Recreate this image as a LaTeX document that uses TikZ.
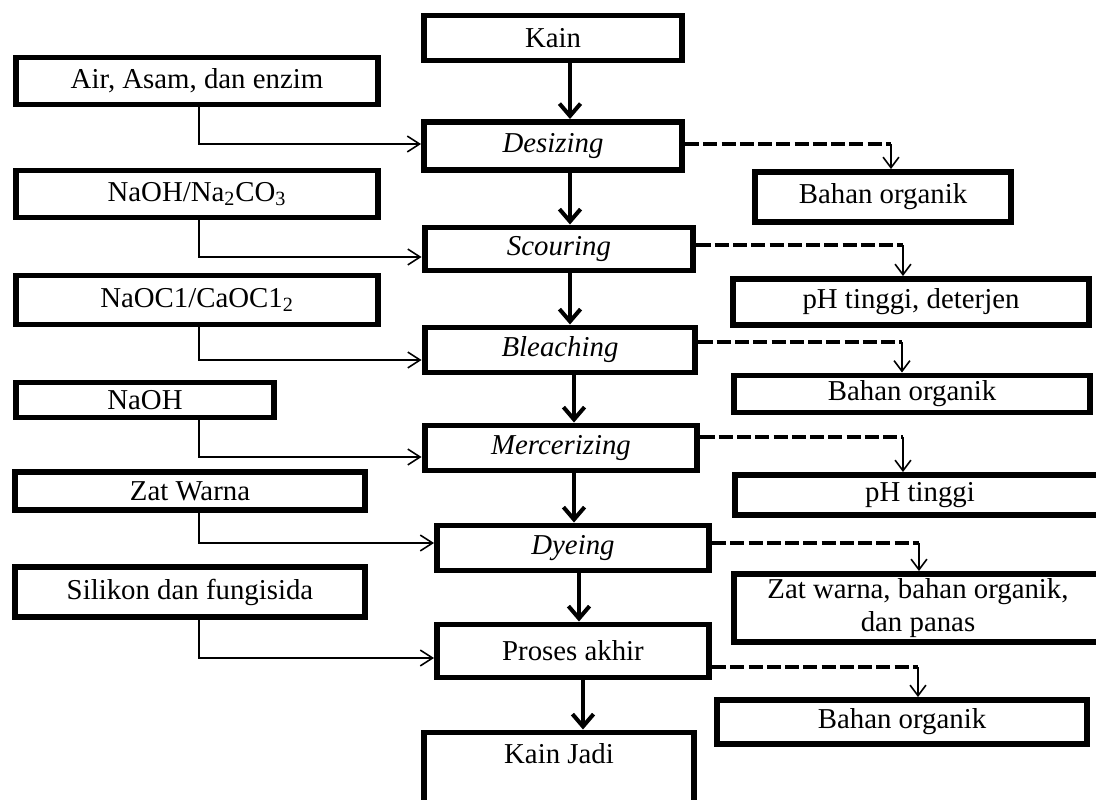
\documentclass[tikz,border=0pt]{standalone}
\usepackage{fontspec}
\setmainfont{Liberation Serif}
\usetikzlibrary{arrows.meta, positioning, calc}

\begin{document}
\begin{tikzpicture}[
  x=0.02cm, y=-0.02cm,
  font=\fontsize{16.4}{19}\selectfont,
  box/.style={rectangle, draw, line width=3.4pt, inner sep=2pt, align=center},
  mainarr/.style={-{Straight Barb[length=7pt,width=12pt]}, line width=2.3pt},
  inarr/.style={-{Straight Barb[length=7pt,width=9pt]}, line width=0.9pt},
  wasteline/.style={line width=2.6pt, dash pattern=on 8pt off 2.4pt},
  wastearr/.style={-{Straight Barb[length=6pt,width=9pt]}, line width=0.9pt},
]
  \clip (0,0) rectangle (1096,800);

  % main process column
  \node[box, minimum width=5.16cm, minimum height=0.90cm] (kain) at (553,38) {Kain};
  \node[box, minimum width=5.16cm, minimum height=0.96cm] (desizing) at (553,146) {\textit{Desizing}};
  \node[box, minimum width=5.38cm, minimum height=0.86cm] (scouring) at (559,249) {\textit{Scouring}};
  \node[box, minimum width=5.42cm, minimum height=0.90cm] (bleaching) at (560,350) {\textit{Bleaching}};
  \node[box, minimum width=5.46cm, minimum height=0.90cm] (mercer) at (561,448) {\textit{Mercerizing}};
  \node[box, minimum width=5.44cm, minimum height=0.90cm] (dyeing) at (573,548) {\textit{Dyeing}};
  \node[box, minimum width=5.44cm, minimum height=1.06cm] (akhir) at (573,651) {Proses akhir};
  \node[box, minimum width=5.40cm, minimum height=1.50cm, text depth=19pt] (jadi) at (559,770) {Kain Jadi};

  % input chemicals
  \node[box, minimum width=7.26cm, minimum height=0.94cm] (air) at (197,81) {Air, Asam, dan enzim};
  \node[box, minimum width=7.26cm, minimum height=0.94cm] (soda) at (197,194) {NaOH/Na\textsubscript{2}CO\textsubscript{3}};
  \node[box, minimum width=7.26cm, minimum height=0.98cm] (hypo) at (197,300) {NaOC1/CaOC1\textsubscript{2}};
  \node[box, minimum width=5.18cm, minimum height=0.70cm] (naoh) at (145,400) {NaOH};
  \node[box, minimum width=7.00cm, minimum height=0.76cm] (zat) at (190,491) {Zat Warna};
  \node[box, minimum width=7.00cm, minimum height=1.00cm] (silikon) at (190,592) {Silikon dan fungisida};

  % waste outputs
  \node[box, minimum width=5.12cm, minimum height=1.00cm] (bo1) at (883,197) {Bahan organik};
  \node[box, minimum width=7.12cm, minimum height=0.92cm] (phdet) at (911,302) {pH tinggi, deterjen};
  \node[box, minimum width=7.14cm, minimum height=0.74cm] (bo2) at (912,394) {Bahan organik};
  \node[box, minimum width=7.40cm, minimum height=0.80cm] (ph) at (920,495) {pH tinggi};
  \node[box, minimum width=7.38cm, minimum height=1.36cm] (zatout) at (918,608) {Zat warna, bahan organik,\\dan panas};
  \node[box, minimum width=7.42cm, minimum height=0.88cm] (bo3) at (902,722) {Bahan organik};

  % main flow
  \draw[mainarr] ([xshift=0.34cm]kain.south) coordinate (m1) -- (m1 |- desizing.north);
  \draw[mainarr] ([xshift=0.34cm]desizing.south) coordinate (m2) -- (m2 |- scouring.north);
  \draw[mainarr] ([xshift=0.22cm]scouring.south) coordinate (m3) -- (m3 |- bleaching.north);
  \draw[mainarr] ([xshift=0.28cm]bleaching.south) coordinate (m4) -- (m4 |- mercer.north);
  \draw[mainarr] ([xshift=0.26cm]mercer.south) coordinate (m5) -- (m5 |- dyeing.north);
  \draw[mainarr] ([xshift=0.12cm]dyeing.south) coordinate (m6) -- (m6 |- akhir.north);
  \draw[mainarr] ([xshift=0.20cm]akhir.south) coordinate (m7) -- (m7 |- jadi.north);

  % inputs
  \coordinate (i1) at (199,144);
  \coordinate (i2) at (199,257);
  \coordinate (i3) at (199,360);
  \coordinate (i4) at (199,457);
  \coordinate (i5) at (199,543);
  \coordinate (i6) at (199,658);
  \draw[inarr] (air.south -| i1) -- (i1) -- (desizing.west |- i1);
  \draw[inarr] (soda.south -| i2) -- (i2) -- (scouring.west |- i2);
  \draw[inarr] (hypo.south -| i3) -- (i3) -- (bleaching.west |- i3);
  \draw[inarr] (naoh.south -| i4) -- (i4) -- (mercer.west |- i4);
  \draw[inarr] (zat.south -| i5) -- (i5) -- (dyeing.west |- i5);
  \draw[inarr] (silikon.south -| i6) -- (i6) -- (akhir.west |- i6);

  % waste
  \coordinate (o1) at (891,144);
  \coordinate (o2) at (903,245);
  \coordinate (o3) at (902,342);
  \coordinate (o4) at (903,437);
  \coordinate (o5) at (919,543);
  \coordinate (o6) at (918,667);
  \draw[wasteline] (desizing.east |- o1) -- (o1);
  \draw[wastearr] (o1) -- (bo1.north -| o1);
  \draw[wasteline] (scouring.east |- o2) -- (o2);
  \draw[wastearr] (o2) -- (phdet.north -| o2);
  \draw[wasteline] (bleaching.east |- o3) -- (o3);
  \draw[wastearr] (o3) -- (bo2.north -| o3);
  \draw[wasteline] (mercer.east |- o4) -- (o4);
  \draw[wastearr] (o4) -- (ph.north -| o4);
  \draw[wasteline] (dyeing.east |- o5) -- (o5);
  \draw[wastearr] (o5) -- (zatout.north -| o5);
  \draw[wasteline] (akhir.east |- o6) -- (o6);
  \draw[wastearr] (o6) -- (bo3.north -| o6);
\end{tikzpicture}
\end{document}
